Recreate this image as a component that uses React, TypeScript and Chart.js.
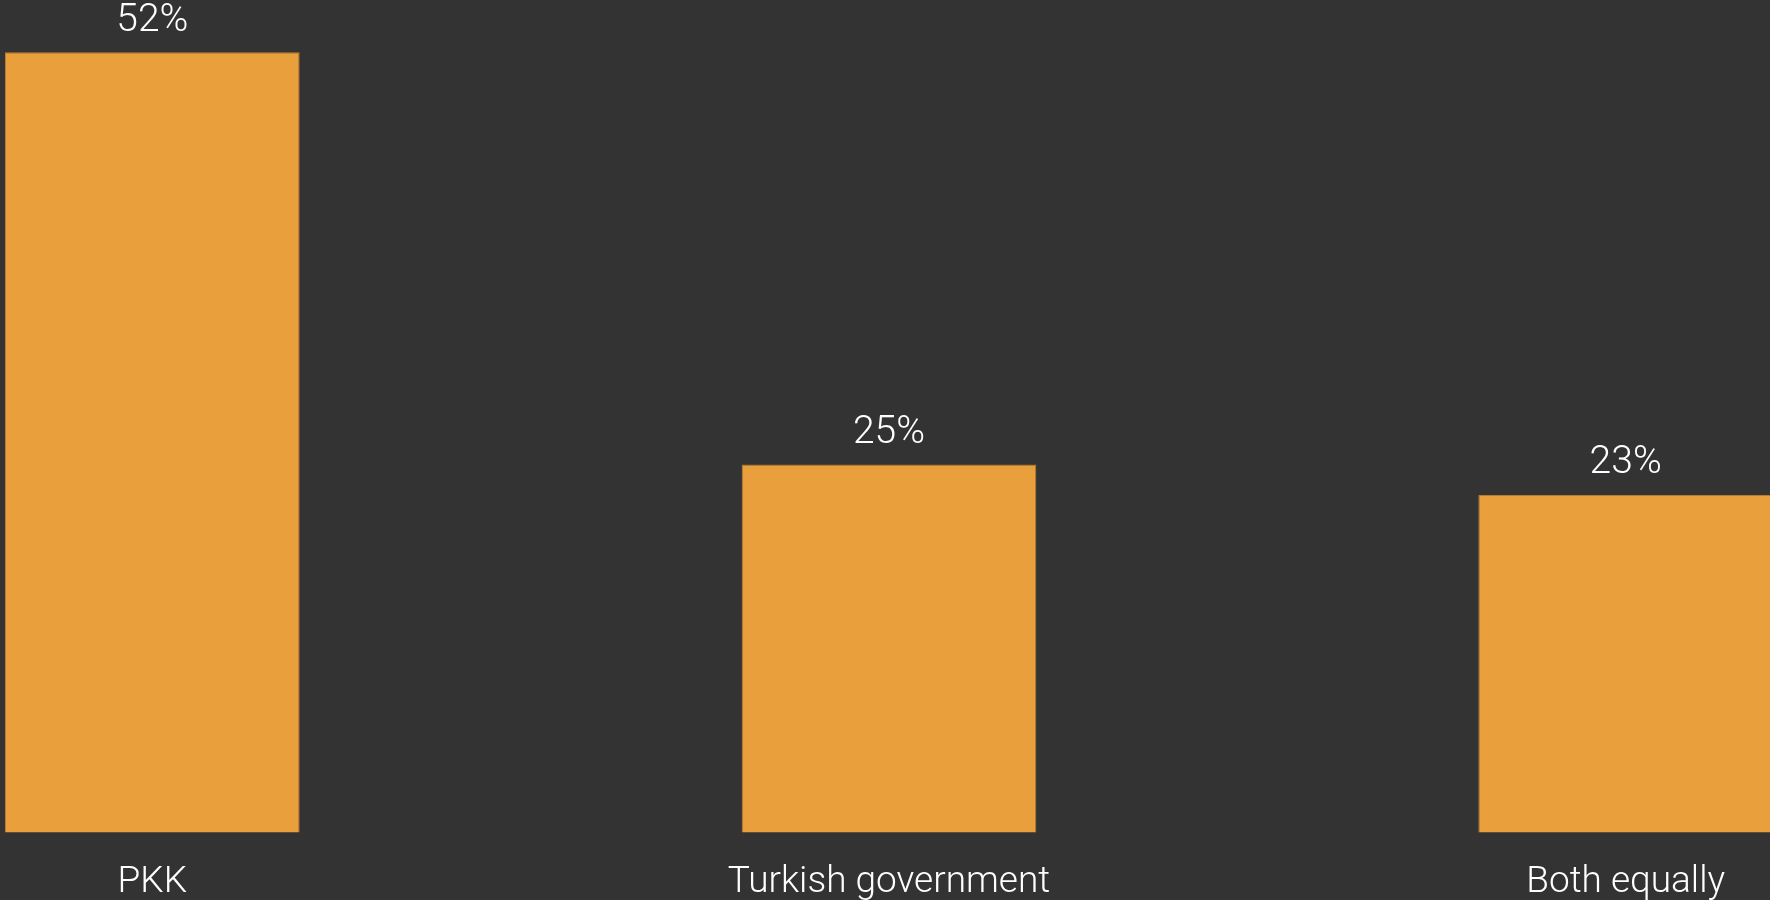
import React, { useEffect, useRef } from "react";
import { Chart, registerables } from "chart.js";

Chart.register(...registerables);

const categories = ["PKK", "Turkish government", "Both equally"];
const shares = [52, 25, 23];

const BG = "#333333";
const BAR = "#E9A03C";
const FONT = "Roboto, 'Liberation Sans', sans-serif";

const valueLabels = {
  id: "valueLabels",
  afterDatasetsDraw(chart: any) {
    const ctx = chart.ctx;
    const meta = chart.getDatasetMeta(0);
    ctx.save();
    ctx.fillStyle = "#ffffff";
    ctx.font = `300 39px ${FONT}`;
    ctx.textAlign = "center";
    ctx.textBaseline = "alphabetic";
    meta.data.forEach((bar: any, i: number) => {
      const v = chart.data.datasets[0].data[i];
      ctx.fillText(`${v}%`, bar.x, bar.y - 21.5);
    });
    ctx.restore();
  },
};

export default function App() {
  const ref = useRef<HTMLCanvasElement | null>(null);
  useEffect(() => {
    if (!ref.current) return;
    const chart = new Chart(ref.current, {
      type: "bar",
      data: {
        labels: categories,
        datasets: [
          {
            data: shares,
            backgroundColor: BAR,
            borderColor: "#b97c2e",
            borderWidth: 1,
            categoryPercentage: 1,
            barPercentage: 0.4,
          },
        ],
      },
      options: {
        animation: false,
        responsive: true,
        maintainAspectRatio: false,
        layout: { padding: 0 },
        plugins: { legend: { display: false }, tooltip: { enabled: false } },
        scales: {
          x: {
            grid: { display: false, drawTicks: false },
            border: { display: false },
            ticks: {
              color: "#ffffff",
              font: { family: FONT, size: 37, weight: "300" as any },
              padding: 28,
              maxRotation: 0,
              autoSkip: false,
            },
            afterFit: (scale: any) => {
              scale.height = 67.7;
            },
          },
          y: { display: false, min: 0.9, max: 55.43 },
        },
      },
      plugins: [valueLabels],
    });
    return () => chart.destroy();
  }, []);
  return (
    <div
      style={{
        position: "fixed",
        left: 0,
        top: 0,
        width: 1770,
        height: 900,
        overflow: "hidden",
        background: BG,
      }}
    >
      <div style={{ position: "absolute", left: -216, top: 0, width: 2210, height: 900 }}>
        <canvas ref={ref} />
      </div>
    </div>
  );
}
